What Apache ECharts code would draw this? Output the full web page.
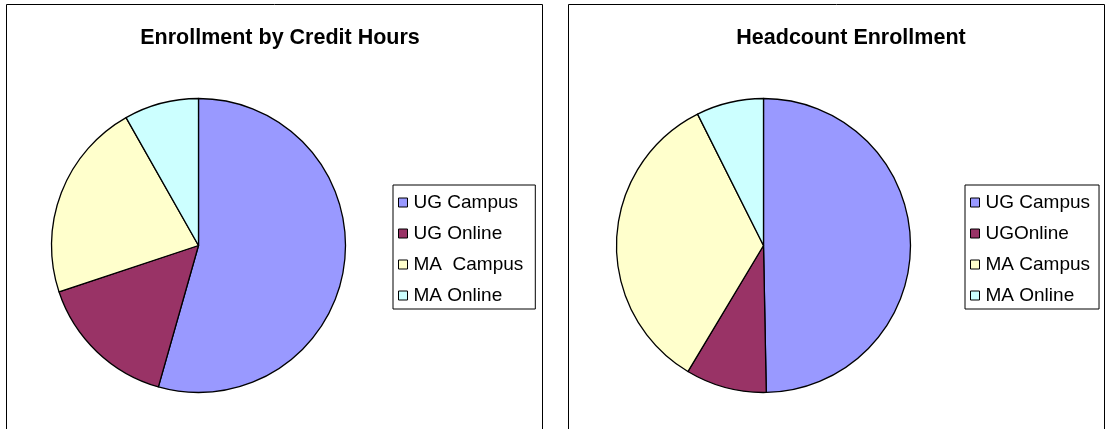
<!DOCTYPE html>
<html>
<head>
<meta charset="utf-8">
<script src="https://cdn.jsdelivr.net/npm/echarts@6/dist/echarts.min.js"></script>
<style>
  html, body { margin: 0; padding: 0; background: #fff; }
  #chart { width: 1105px; height: 429px; }
</style>
</head>
<body>
<div id="chart"></div>
<script>
// data (percent of total)
const creditNames = ['UG Campus', 'UG Online', 'MA  Campus', 'MA Online']
const creditValues = [54.4, 15.5, 21.9, 8.2]
const headNames = ['UG Campus', 'UGOnline', 'MA Campus', 'MA Online']
const headValues = [49.7, 8.9, 34.0, 7.4]
const colors = ['#9999ff', '#993366', '#ffffcc', '#ccffff']

const font = 'Liberation Sans, Arial, sans-serif'

function toData(names, values) {
    return names.map((n, i) => ({
        name: n,
        value: values[i],
        itemStyle: { color: colors[i] }
    }))
}

function legendFor(names, left, rightPad) {
    return {
        orient: 'vertical',
        left: left,
        top: 185,
        data: names,
        icon: 'rect',
        itemWidth: 9,
        itemHeight: 9,
        itemGap: 12,
        padding: [8, rightPad, 4, 5],
        borderColor: '#000',
        borderWidth: 1,
        selectedMode: false,
        itemStyle: { borderColor: '#000', borderWidth: 1 },
        textStyle: { fontFamily: font, fontSize: 19, color: '#000', padding: [0, 0, 0, 1] }
    }
}

const chart = echarts.init(document.getElementById('chart'))
chart.setOption({
    animation: false,
    title: [
        {
            text: 'Enrollment by Credit Hours',
            left: 275,
            top: 22,
            textAlign: 'center',
            textStyle: { fontFamily: font, fontSize: 21.5, fontWeight: 'bold', color: '#000' }
        },
        {
            text: 'Headcount Enrollment',
            left: 846,
            top: 22,
            textAlign: 'center',
            textStyle: { fontFamily: font, fontSize: 21.5, fontWeight: 'bold', color: '#000' }
        }
    ],
    legend: [legendFor(creditNames, 393, 12), legendFor(headNames, 965, 9)],
    graphic: [
        {
            type: 'rect',
            shape: { x: 6.5, y: 4.5, width: 536, height: 440 },
            style: { fill: 'none', stroke: '#000', lineWidth: 1 },
            z: -1
        },
        {
            type: 'rect',
            shape: { x: 568.5, y: 4.5, width: 536, height: 440 },
            style: { fill: 'none', stroke: '#000', lineWidth: 1 },
            z: -1
        }
    ],
    series: [
        {
            type: 'pie',
            center: [198.5, 245.5],
            radius: 147,
            startAngle: 90,
            label: { show: false },
            labelLine: { show: false },
            itemStyle: { borderColor: '#000', borderWidth: 1.3 },
            emphasis: { disabled: true },
            data: toData(creditNames, creditValues)
        },
        {
            type: 'pie',
            center: [763.5, 245.5],
            radius: 147,
            startAngle: 90,
            label: { show: false },
            labelLine: { show: false },
            itemStyle: { borderColor: '#000', borderWidth: 1.3 },
            emphasis: { disabled: true },
            data: toData(headNames, headValues)
        }
    ]
})
</script>
</body>
</html>
